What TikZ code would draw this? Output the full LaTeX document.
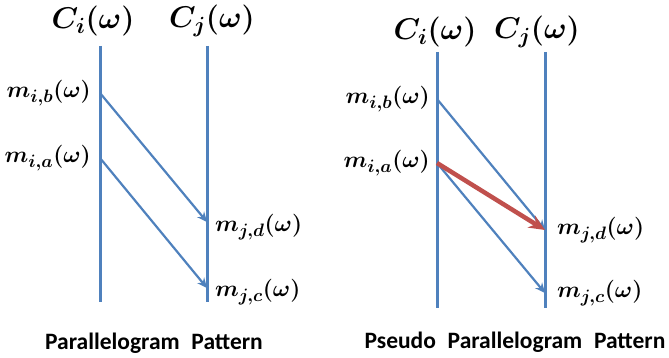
\RequirePackage{fix-cm}
\documentclass[tikz,border=0pt]{standalone}
\usepackage{fontspec}
\newfontfamily\captionfont{Carlito}
\usepackage{tikz}
\usetikzlibrary{arrows.meta, positioning}
\DeclareMathSizes{30}{30}{22}{17}
\DeclareMathSizes{23}{23}{18}{14}
\definecolor{lineblue}{RGB}{79, 129, 189}
\definecolor{pseudored}{RGB}{192, 80, 77}
\tikzset{
  >=Stealth,
  procline/.style={line width=3pt, lineblue},
  msgarrow/.style={-{Stealth[length=10pt, width=9pt]}, line width=2.2pt, lineblue},
  msgarrow_red/.style={-{Stealth[length=16pt, width=14pt]}, line width=4.5pt, pseudored},
  proclabel/.style={font=\fontsize{30}{36}\selectfont\boldmath, inner sep=0pt},
  msglabel/.style={font=\fontsize{23}{28}\selectfont\boldmath, inner sep=0pt},
  patterncaption/.style={font=\captionfont\bfseries\fontsize{23.5}{28}\selectfont, inner sep=0pt}
}

\begin{document}
\begin{tikzpicture}[x=1pt, y=-1pt]
    \useasboundingbox (0,0) rectangle (669,358);

    % parallelogram pattern
    \coordinate (citop1) at (100,46);
    \coordinate (cibot1) at (100,302);
    \coordinate (cjtop1) at (207,46);
    \coordinate (cjbot1) at (207,302);
    \coordinate (mib1) at (100,93);
    \coordinate (mia1) at (100,158);
    \coordinate (mjd1) at (207,222);
    \coordinate (mjc1) at (207,288);

    \node (ci1) [proclabel] at (93,21) {$C_i(\omega)$};
    \node (cj1) [proclabel] at (212,21) {$C_j(\omega)$};
    \node (mib1lab) [msglabel, left=9pt of mib1] {$m_{i,b}(\omega)$};
    \node (mia1lab) [msglabel, left=9pt of mia1] {$m_{i,a}(\omega)$};
    \node (mjd1lab) [msglabel, anchor=west] at (215,227) {$m_{j,d}(\omega)$};
    \node (mjc1lab) [msglabel, anchor=west] at (215,292) {$m_{j,c}(\omega)$};
    \node (cap1) [patterncaption] at (154,343) {Parallelogram\hspace{0.5em}Pattern};

    \draw[procline] (citop1) -- (cibot1);
    \draw[procline] (cjtop1) -- (cjbot1);
    \draw[msgarrow] (mib1) -- (mjd1);
    \draw[msgarrow] (mia1) -- (mjc1);

    % pseudo parallelogram pattern
    \coordinate (citop2) at (437,52);
    \coordinate (cibot2) at (437,308);
    \coordinate (cjtop2) at (545,52);
    \coordinate (cjbot2) at (545,308);
    \coordinate (mib2) at (437,99);
    \coordinate (mia2) at (437,163);
    \coordinate (mjd2) at (545,230);
    \coordinate (mjc2) at (545,293);

    \node (ci2) [proclabel] at (435,32) {$C_i(\omega)$};
    \node (cj2) [proclabel] at (537,32) {$C_j(\omega)$};
    \node (mib2lab) [msglabel, left=7pt of mib2] {$m_{i,b}(\omega)$};
    \node (mia2lab) [msglabel, left=7pt of mia2] {$m_{i,a}(\omega)$};
    \node (mjd2lab) [msglabel, anchor=west] at (557,230) {$m_{j,d}(\omega)$};
    \node (mjc2lab) [msglabel, anchor=west] at (557,293) {$m_{j,c}(\omega)$};
    \node (cap2) [patterncaption] at (515,342) {Pseudo\hspace{0.5em}Parallelogram\hspace{0.5em}Pattern};

    \draw[procline] (citop2) -- (cibot2);
    \draw[procline] (cjtop2) -- (cjbot2);
    \draw[msgarrow] (mib2) -- (mjd2);
    \draw[msgarrow] (mia2) -- (mjc2);
    \draw[msgarrow_red] (mia2) -- (mjd2);
\end{tikzpicture}
\end{document}
